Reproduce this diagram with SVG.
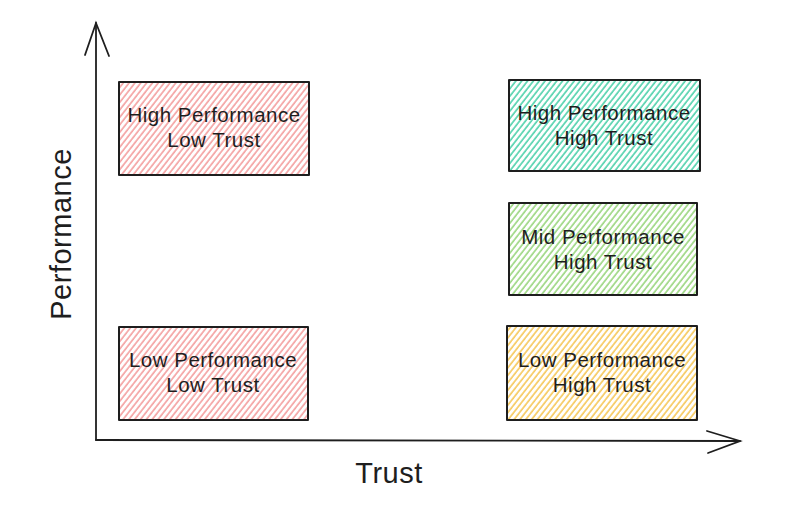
<svg xmlns="http://www.w3.org/2000/svg" width="800" height="506" viewBox="0 0 800 506">
<style>
.box{stroke:#1e1e1e;stroke-width:2;stroke-linejoin:round;stroke-linecap:round}
.edge{fill:none;stroke:#1e1e1e;stroke-width:1.8;stroke-linecap:round}
.lbl{font-family:"Liberation Sans","DejaVu Sans",sans-serif;font-size:20.5px;letter-spacing:0.5px;fill:#1e1e1e;text-anchor:middle}
.axis{font-family:"Liberation Sans","DejaVu Sans",sans-serif;font-size:29px;letter-spacing:0.5px;fill:#1e1e1e;text-anchor:middle}
</style>
<defs>
<pattern id="hPink" patternUnits="userSpaceOnUse" width="4.6" height="10" patternTransform="rotate(38)"><line x1="1" y1="-1" x2="1" y2="11" stroke="#f4a0a0" stroke-width="1.6"/></pattern>
<pattern id="hTeal" patternUnits="userSpaceOnUse" width="4.6" height="10" patternTransform="rotate(38)"><line x1="1" y1="-1" x2="1" y2="11" stroke="#4fd1ab" stroke-width="1.6"/></pattern>
<pattern id="hGreen" patternUnits="userSpaceOnUse" width="4.6" height="10" patternTransform="rotate(38)"><line x1="1" y1="-1" x2="1" y2="11" stroke="#9ad67f" stroke-width="1.6"/></pattern>
<pattern id="hYellow" patternUnits="userSpaceOnUse" width="4.6" height="10" patternTransform="rotate(38)"><line x1="1" y1="-1" x2="1" y2="11" stroke="#f6c85a" stroke-width="1.6"/></pattern>
</defs>
<rect width="800" height="506" fill="#ffffff"/>
<g id="connectors">
<path class="edge" d="M96 440 L96 23"/>
<path class="edge" d="M85 55 L96 23 L109 56"/>
<path class="edge" d="M96 440 L740 441"/>
<path class="edge" d="M707 431 L740 441 L708 453"/>
</g>
<g id="node-hp-lt">
<rect class="box" x="119" y="82" width="190" height="93" fill="url(#hPink)"/>
<text class="lbl" x="214" y="122">High Performance</text>
<text class="lbl" x="214" y="147">Low Trust</text>
</g>
<g id="node-hp-ht">
<rect class="box" x="509" y="80" width="191" height="91" fill="url(#hTeal)"/>
<text class="lbl" x="604" y="120">High Performance</text>
<text class="lbl" x="604" y="145">High Trust</text>
</g>
<g id="node-mp-ht">
<rect class="box" x="509" y="203" width="188" height="92" fill="url(#hGreen)"/>
<text class="lbl" x="603" y="244">Mid Performance</text>
<text class="lbl" x="603" y="269">High Trust</text>
</g>
<g id="node-lp-ht">
<rect class="box" x="507" y="326" width="190" height="94" fill="url(#hYellow)"/>
<text class="lbl" x="602" y="367">Low Performance</text>
<text class="lbl" x="602" y="392">High Trust</text>
</g>
<g id="node-lp-lt">
<rect class="box" x="119" y="327" width="189" height="93" fill="url(#hPink)"/>
<text class="lbl" x="213" y="367">Low Performance</text>
<text class="lbl" x="213" y="392">Low Trust</text>
</g>
<g id="axis-labels">
<text class="axis" x="389" y="483">Trust</text>
<text class="axis" x="0" y="0" transform="translate(71 234) rotate(-90)">Performance</text>
</g>
</svg>
